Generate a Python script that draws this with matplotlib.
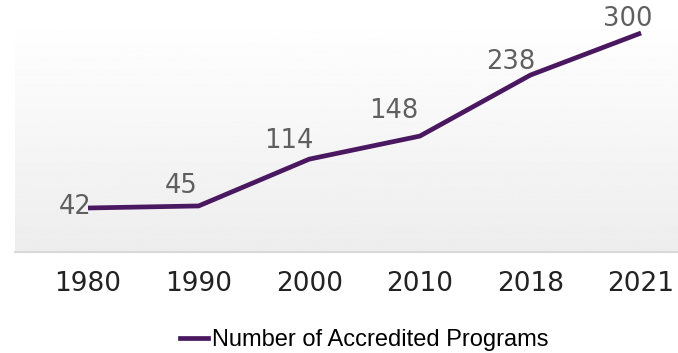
import numpy as np
import matplotlib
matplotlib.use('Agg')
import matplotlib.pyplot as plt
from matplotlib.lines import Line2D

years = ['1980', '1990', '2000', '2010', '2018', '2021']
programs = [42, 45, 114, 148, 238, 300]
label_offsets = [(-13, 1), (-17, 20), (-20, 18), (-26, 25), (-20, 13), (-13, 14)]

LINE_COLOR = '#4a1860'

W, H, DPI = 678, 353, 100
fig = plt.figure(figsize=(W / DPI, H / DPI), dpi=DPI)
ax = fig.add_axes([15 / W, (H - 252) / H, (678 - 15) / W, (252 - 17) / H])

# vertical gradient background (white on top, light grey at bottom)
grad = np.linspace(1.0, 0.93, 256).reshape(-1, 1)
ax.imshow(grad, cmap='gray', vmin=0, vmax=1, aspect='auto',
          extent=[0, 1, 0, 1], transform=ax.transAxes, zorder=0)

x = np.arange(len(years))
ax.plot(x, programs, color=LINE_COLOR, linewidth=3.4, solid_capstyle='butt',
        solid_joinstyle='miter', zorder=3)

for xi, v, (dx, dy) in zip(x, programs, label_offsets):
    ax.annotate(str(v), xy=(xi, v), xytext=(dx, dy), textcoords='offset pixels',
                ha='center', va='center', fontsize=18.5, color='#5f5f5f',
                family='DejaVu Sans', zorder=4)

ax.set_xlim(-0.66, 5.334)
ax.set_ylim(-22.9, 323.6)
ax.set_xticks(x)
ax.set_xticklabels(years, fontsize=19, color='#222222', family='DejaVu Sans')
ax.tick_params(axis='x', length=0, pad=14)
ax.set_yticks([])
for s in ['top', 'left', 'right']:
    ax.spines[s].set_visible(False)
ax.spines['bottom'].set_color('#d9d9d9')
ax.spines['bottom'].set_linewidth(1.5)

handle = Line2D([], [], color=LINE_COLOR, linewidth=3.4)
fig.legend([handle], ['Number of Accredited Programs'], loc='center',
           bbox_to_anchor=(364 / W, (H - 340) / H), frameon=False,
           prop={'family': 'Liberation Sans', 'size': 17},
           handlelength=1.2, handletextpad=0.15)

fig.savefig('out.png', dpi=DPI)
